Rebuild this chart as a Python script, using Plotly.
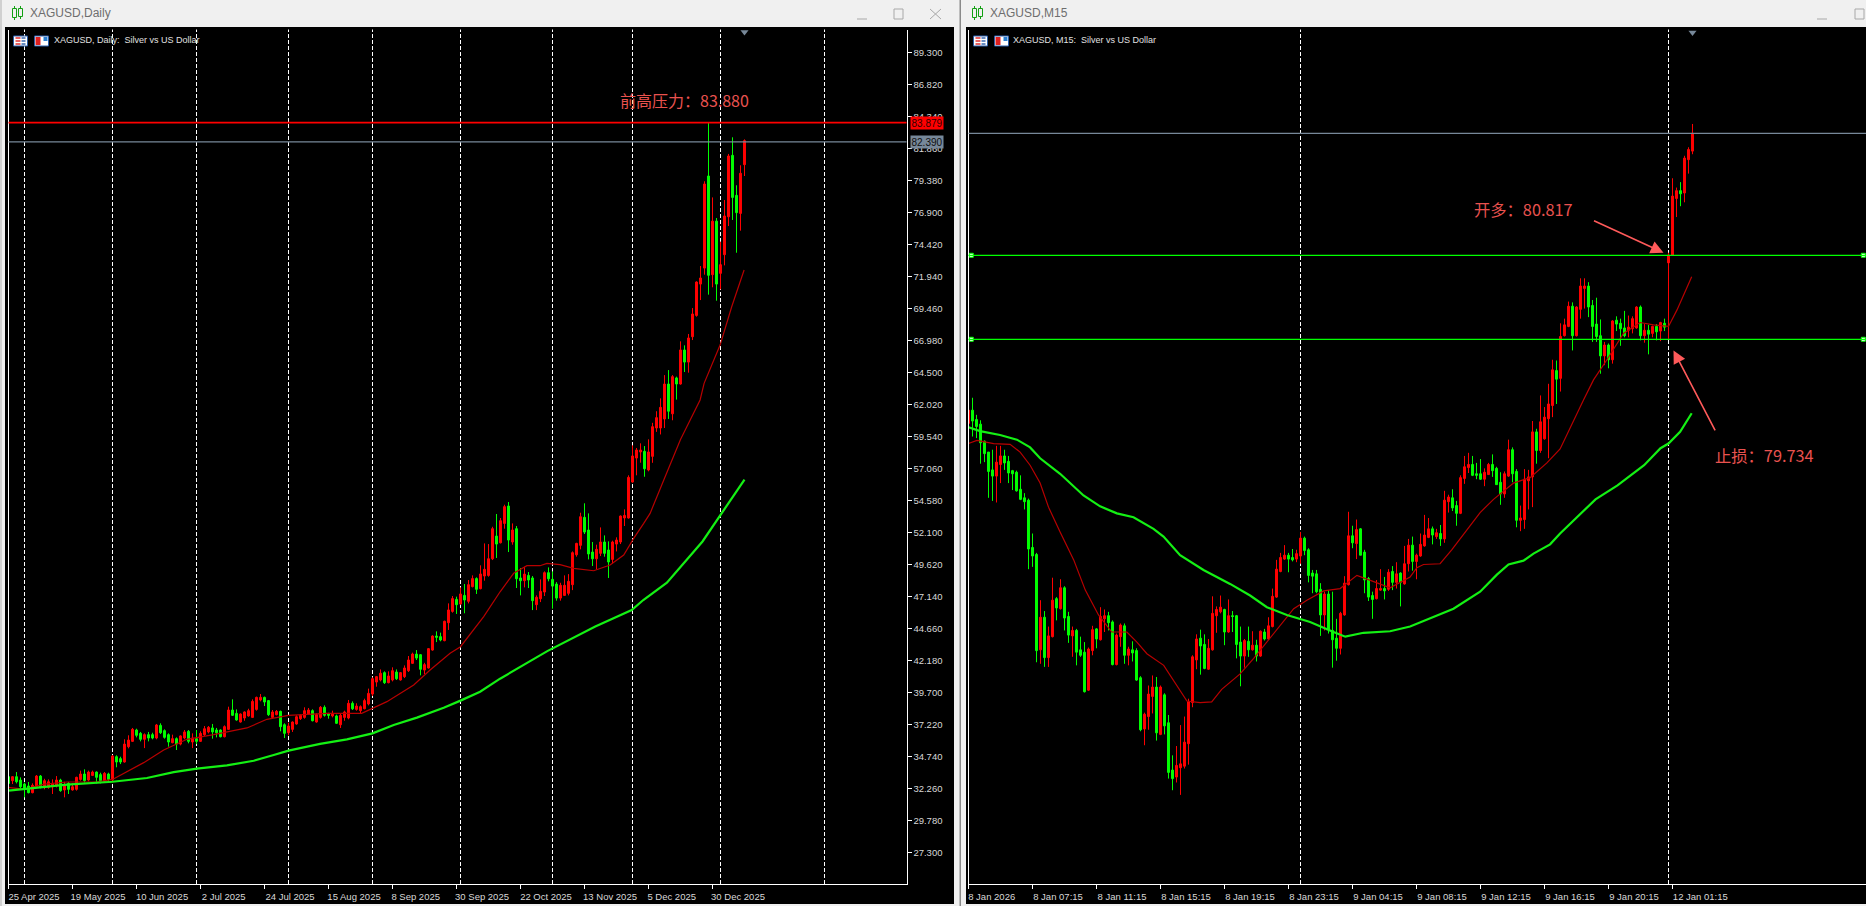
import plotly.graph_objects as go

W, H = 1866, 906

# ---------- XAGUSD Daily ----------
d_labels = ["25 Apr 2025","19 May 2025","10 Jun 2025","2 Jul 2025","24 Jul 2025","15 Aug 2025",
            "8 Sep 2025","30 Sep 2025","22 Oct 2025","13 Nov 2025","5 Dec 2025","30 Dec 2025"]
d_label_bars = [0,16,32,48,64,80,96,112,128,144,160,176]
d_month_bars = [4,26,47,70,91,113,136,156,178,204]
d_price_ticks = [89.30,86.82,84.34,81.86,79.38,76.90,74.42,71.94,69.46,66.98,64.50,62.02,59.54,
                 57.06,54.58,52.10,49.62,47.14,44.66,42.18,39.70,37.22,34.74,32.26,29.78,27.30]
d_dir = ("GRGGGGRRGR" "RRRGRGRRRG" "RRGGRGRGGR" "RRGGRGGRGG" "GRGRRGRGRR" "RGGGRRGGRR"
         "RRRRGGRRGG" "RRRRRRGRRG" "GRGRRRGRRR" "RRRRGRRGRR" "RRGGRRRGGR" "RRGRGRRGRR"
         "RRGRRGRGGR" "GGRRRGGGRR" "RRRRGGGRRG" "GRRRRRRRRG" "RRRRRGRGRG" "RRRRRGRGRR" "RGGRR")
d_body_top = [
33.16,33.16,33.16,32.90,32.59,32.44,32.49,33.21,33.21,32.85,
32.77,32.64,32.90,32.90,32.51,32.64,32.38,33.11,33.37,33.37,
33.52,33.52,33.52,33.32,33.42,33.37,34.76,34.71,34.56,35.69,
36.00,36.83,36.78,36.52,36.42,36.42,36.42,37.17,37.14,36.73,
36.42,36.11,36.11,36.32,36.63,36.68,36.16,36.11,36.52,36.88,
36.99,36.94,36.78,36.78,37.04,38.33,38.33,38.07,38.02,38.18,
38.28,39.00,39.31,39.31,39.31,39.06,38.18,38.23,38.23,37.19,
37.09,37.40,37.81,37.92,38.28,38.33,38.28,37.97,38.54,38.54,
38.02,38.07,37.87,37.92,38.18,38.85,38.85,38.64,38.59,39.06,
39.62,40.76,40.92,41.18,41.23,40.97,41.38,41.28,41.23,41.59,
42.21,42.67,42.67,42.62,41.85,43.09,44.07,44.07,44.02,45.21,
46.09,46.97,46.91,47.33,47.22,48.05,48.52,48.52,48.88,49.24,
50.06,52.39,51.82,53.01,54.10,54.15,52.29,52.39,48.57,48.87,
48.77,48.57,47.07,47.53,48.98,48.98,48.46,48.10,48.00,48.00,
48.31,50.53,51.25,53.32,53.27,52.29,50.58,50.79,51.36,51.36,
50.74,51.36,51.51,53.37,53.42,56.37,58.03,58.49,58.49,58.39,
58.34,60.30,61.00,61.80,63.61,63.61,64.18,64.08,66.25,66.25,
67.18,69.04,71.52,71.83,79.12,79.74,76.24,76.24,72.86,76.64,
81.29,81.34,78.24,79.95,82.48]
d_body_bottom = [
32.64,32.85,32.77,32.38,32.26,31.92,31.92,32.38,32.33,32.33,
32.33,32.38,32.44,32.08,32.13,32.18,32.13,32.18,32.95,32.85,
32.90,33.26,33.11,32.85,32.80,32.95,32.90,34.30,34.30,34.30,
35.49,35.90,36.37,36.06,36.06,36.16,36.16,36.16,36.57,36.21,
35.85,35.80,35.69,35.69,36.16,35.90,35.85,35.90,35.90,36.42,
36.63,36.63,36.57,36.26,36.26,36.83,37.92,37.56,37.40,37.71,
37.87,37.76,38.38,39.11,38.95,37.97,37.76,37.97,37.04,36.52,
36.57,36.83,37.25,37.66,37.76,38.02,37.50,37.40,37.76,37.92,
37.92,37.87,37.30,37.19,37.76,37.71,38.43,38.38,38.28,38.43,
38.80,39.57,40.50,40.66,40.45,40.45,40.66,40.76,40.66,40.92,
41.38,41.95,42.36,41.49,41.43,41.59,42.98,43.97,43.76,43.71,
45.10,45.98,46.50,46.55,46.86,46.76,47.90,47.69,47.74,48.72,
48.77,50.06,51.20,51.30,52.80,51.51,51.36,48.51,48.36,48.36,
48.41,46.81,46.50,46.96,47.48,48.51,47.94,47.01,47.01,47.22,
47.38,48.05,50.37,51.10,52.13,50.43,50.06,50.06,50.48,50.48,
49.81,50.01,51.20,51.36,53.22,53.22,56.01,57.87,58.34,57.04,
56.94,58.00,60.20,60.20,60.90,61.50,61.30,63.61,63.61,65.31,
65.31,67.28,68.93,71.36,72.60,72.04,72.09,71.36,72.19,73.64,
76.58,78.08,76.90,76.84,80.62]
d_high = [
33.60,33.21,33.52,33.11,32.70,32.75,32.64,33.29,33.29,33.00,
32.95,32.95,33.21,33.00,32.77,32.75,32.64,33.16,33.63,33.73,
33.63,33.63,33.57,33.47,33.52,33.47,34.84,34.82,34.71,36.06,
36.37,36.94,36.88,36.63,36.52,36.63,36.57,37.25,37.30,36.83,
36.52,36.42,36.21,36.37,36.78,36.78,36.52,36.78,36.68,37.09,
37.09,37.25,36.94,36.83,37.14,38.59,39.16,38.38,38.07,38.23,
38.43,39.16,39.37,39.57,39.37,39.11,38.33,38.33,38.28,37.30,
37.35,37.45,37.92,38.02,38.54,38.49,38.38,38.07,38.64,38.69,
38.12,38.28,37.97,38.07,38.28,39.11,39.00,38.85,38.69,39.21,
39.99,40.86,40.97,41.48,41.33,41.33,41.64,41.48,41.28,41.79,
42.52,42.78,42.98,42.67,41.99,43.14,44.12,44.43,44.33,45.26,
46.60,47.17,47.12,47.84,48.10,48.41,48.77,48.62,49.55,51.25,
51.20,52.54,53.53,53.22,54.25,54.46,52.80,52.60,49.34,49.44,
49.03,48.72,47.22,48.46,49.08,49.39,49.08,48.25,48.20,48.77,
48.87,50.63,51.30,53.63,54.36,53.58,51.36,51.15,52.49,51.87,
51.41,51.46,51.72,53.42,53.89,56.53,58.85,58.65,59.01,58.80,
59.32,60.60,61.50,62.50,64.30,64.69,64.30,64.18,66.92,66.61,
67.49,69.50,71.57,72.76,79.33,83.88,78.08,76.48,74.65,77.88,
81.45,82.74,79.02,80.57,82.58]
d_low = [
32.38,32.59,32.64,32.13,31.56,31.87,31.87,32.26,32.26,32.18,
32.23,31.82,32.33,31.99,31.56,31.82,32.08,32.08,32.85,32.70,
32.80,33.21,32.64,32.64,32.75,32.70,32.80,33.89,34.14,34.25,
35.36,35.85,36.21,35.90,35.38,35.90,36.06,36.06,36.47,36.11,
35.49,35.75,35.23,35.59,36.06,35.75,35.38,35.69,35.85,36.32,
36.52,36.11,36.21,36.21,36.21,36.78,37.87,37.50,37.35,37.50,
37.82,37.71,38.28,39.00,38.64,37.87,37.66,37.92,36.68,36.16,
36.37,36.63,37.19,37.56,37.66,37.97,37.45,37.35,37.66,37.82,
37.66,37.76,37.25,36.94,37.50,37.61,38.33,38.28,38.02,38.38,
38.69,39.42,40.14,40.55,40.35,40.40,40.55,40.66,40.61,40.81,
41.28,41.90,42.21,41.02,41.12,41.54,42.93,43.60,43.66,43.66,
44.54,45.88,45.78,46.50,45.83,46.60,47.84,47.33,47.69,48.36,
48.67,49.96,50.12,51.25,52.39,50.58,51.15,47.79,47.22,47.84,
47.79,46.08,46.08,46.70,47.17,48.31,46.19,46.81,46.81,47.17,
47.22,47.63,50.22,50.79,51.98,50.01,49.50,49.24,50.27,50.22,
48.57,49.70,50.63,51.20,52.60,53.17,55.96,56.53,57.51,56.42,
56.84,57.50,59.90,59.70,60.20,60.90,60.80,62.40,63.56,64.54,
64.49,67.02,68.83,70.12,72.09,70.54,71.11,70.07,70.95,72.81,
75.86,76.33,73.79,75.50,79.74]
d_fast_bar = [0,4,9,14.6,22,26,33.8,38.8,44.6,51.3,59.6,64.6,70,79.6,88.3,94.6,101.3,105.4,110.4,113,118.8,
              122.9,126.3,129.6,132.9,134.6,137.9,141.3,146.3,150.4,153.8,156.3,158.8,160.4,164,168,172.9,173.9,177.9,180.8,183.9]
d_fast_val = [32.33,32.18,32.59,32.75,32.75,32.95,34.25,35.23,36.06,36.42,36.94,37.61,37.92,38.07,38.07,38.98,40.27,41.43,42.73,43.24,45.57,
              47.50,48.93,49.52,49.52,49.70,49.60,49.31,49.13,49.57,50.35,51.64,52.80,53.58,56.30,59.30,62.37,63.66,66.63,69.60,72.45]
d_slow_bar = [0,6.3,14.6,26,34.6,41.3,47.1,54.6,61.3,66.3,70,77.9,84.6,91,96.3,102.1,108.8,113,117.9,122.9,
              131.8,134.7,146.7,155.8,158.7,160.4,164.6,173.5,184]
d_slow_val = [32.08,32.28,32.54,32.77,33.06,33.52,33.78,34.04,34.40,34.84,35.18,35.70,36.06,36.52,37.17,37.74,38.51,39.06,39.75,40.76,
              42.40,42.90,44.80,46.08,46.86,47.25,48.20,51.40,56.20]
d_resistance = 83.879
d_last = 82.390

# ---------- XAGUSD M15 ----------
m_labels = ["8 Jan 2026","8 Jan 07:15","8 Jan 11:15","8 Jan 15:15","8 Jan 19:15","8 Jan 23:15",
            "9 Jan 04:15","9 Jan 08:15","9 Jan 12:15","9 Jan 16:15","9 Jan 20:15","12 Jan 01:15"]
m_label_bars = [0,16,32,48,64,80,96,112,128,144,160,176]
m_day_bars = [83,175]
m_dir = ("RGGGGGGRRG" "GGGGGGGGRG" "RRGRGGRGGG" "RRGRRGGRRG" "RGGGRRRGRG" "GGRRRRRRGG"
         "RRRRGRGGGR" "GRGRGRRRRR" "GGRRGGGGGR" "GGGRRRGRGG" "GGRRGRGRGR" "RGRRRRGRGR"
         "RGGRRRGGGR" "RGGGRRGGRR" "RRGRRRRGRR" "RGRRRGGGGR" "GRGGGRRRGR" "GRGRGRRRGR" "RR")
m_body_top = [
78.82,78.82,78.70,78.64,78.42,78.28,78.05,78.15,78.23,78.23,
78.16,78.04,78.02,77.80,77.69,77.66,77.05,76.96,76.15,76.15,
75.91,76.37,76.39,76.53,76.53,76.16,75.98,75.98,75.73,75.70,
75.74,75.99,76.00,76.16,76.17,76.17,76.09,75.92,76.05,76.04,
75.74,75.73,75.72,75.37,74.90,75.16,75.25,75.25,75.25,75.15,
74.79,74.18,74.24,74.26,74.54,75.06,75.64,75.87,75.88,75.80,
75.75,76.20,76.25,76.28,76.25,76.17,76.17,76.17,75.83,75.85,
75.84,75.79,75.79,75.97,75.96,76.04,76.42,76.77,76.92,76.95,
76.95,76.92,76.97,77.17,77.17,77.02,76.72,76.71,76.51,76.45,
76.45,75.98,75.88,76.20,76.59,77.20,77.20,77.28,77.29,76.99,
76.65,76.43,76.52,76.52,76.52,76.73,76.74,76.71,76.72,76.84,
77.08,77.08,76.95,77.09,77.21,77.29,77.29,77.24,77.23,77.66,
77.70,77.69,77.59,77.95,78.09,78.12,78.12,78.00,78.00,78.02,
78.12,78.12,78.07,77.89,78.00,78.31,78.31,78.03,77.43,77.93,
77.96,78.54,78.54,78.67,78.73,78.90,79.34,79.33,79.77,79.92,
80.16,80.16,80.15,80.42,80.42,80.42,80.17,79.93,79.78,79.66,
79.66,79.97,79.98,79.94,79.88,79.89,80.00,80.15,80.15,79.85,
79.85,79.90,79.90,79.95,79.94,80.82,81.58,81.65,81.65,82.07,
82.18,82.39]
m_body_bottom = [
78.65,78.68,78.61,78.40,78.26,78.03,77.97,77.97,78.12,78.14,
78.01,78.00,77.78,77.67,77.64,77.03,76.94,75.72,75.73,75.63,
75.63,75.90,76.27,76.26,76.14,75.92,75.91,75.70,75.66,75.19,
75.21,75.72,75.87,75.86,76.13,76.08,75.54,75.54,75.90,75.66,
75.66,75.69,75.34,74.70,74.71,74.87,75.13,74.66,74.64,74.75,
74.15,74.07,74.09,74.21,74.23,74.52,75.05,75.60,75.78,75.49,
75.48,75.73,76.17,76.22,75.96,75.96,76.16,75.80,75.65,75.65,
75.73,75.73,75.65,75.65,75.87,75.87,76.03,76.41,76.74,76.90,
76.90,76.89,76.90,76.94,77.01,76.69,76.68,76.48,76.18,76.18,
75.99,75.86,75.75,75.75,76.18,76.57,77.11,77.10,76.95,76.63,
76.41,76.38,76.39,76.50,76.49,76.51,76.60,76.60,76.60,76.58,
76.84,76.87,76.87,76.94,77.07,77.18,77.21,77.19,77.16,77.16,
77.64,77.56,77.49,77.49,77.94,78.08,77.98,77.98,77.93,77.93,
77.99,78.04,77.86,77.74,77.74,77.97,78.00,77.40,77.40,77.41,
77.91,77.96,78.30,78.30,78.45,78.71,78.88,79.22,79.23,79.78,
79.90,79.78,79.78,80.12,80.39,80.15,79.90,79.77,79.52,79.52,
79.47,79.47,79.93,79.87,79.78,79.85,79.87,79.88,79.78,79.78,
79.80,79.81,79.83,79.84,79.89,80.72,80.82,81.55,81.61,81.62,
82.05,82.16]
m_high = [
78.82,78.98,78.76,78.69,78.43,78.28,78.31,78.36,78.36,78.31,
78.23,78.05,78.04,77.98,77.75,77.68,77.23,76.98,76.37,76.23,
76.03,76.66,76.41,76.64,76.55,76.22,76.03,76.00,75.90,75.83,
75.76,76.04,76.01,76.28,76.25,76.22,76.11,75.94,76.07,76.07,
75.77,75.84,75.75,75.39,74.92,75.27,75.40,75.38,75.27,75.17,
74.89,74.37,74.49,74.76,74.87,75.10,75.66,75.93,75.99,75.93,
75.87,76.42,76.29,76.43,76.26,76.38,76.23,76.18,76.03,75.87,
76.03,75.97,75.86,75.98,76.00,76.15,76.52,76.89,76.98,77.08,
76.98,77.03,77.02,77.25,77.19,77.04,76.76,76.76,76.59,76.48,
76.50,76.48,76.13,76.22,76.68,77.51,77.33,77.41,77.30,77.02,
76.67,76.48,76.63,76.77,76.67,76.77,76.81,76.86,76.73,77.07,
77.16,77.19,76.97,77.23,77.47,77.43,77.32,77.29,77.34,77.78,
77.73,77.80,77.65,77.98,78.23,78.27,78.23,78.14,78.19,78.07,
78.14,78.25,78.09,78.02,78.03,78.44,78.34,78.06,77.59,78.06,
78.05,78.68,78.58,79.01,78.86,79.16,79.47,79.46,79.94,80.00,
80.22,80.21,80.16,80.52,80.52,80.47,80.24,80.27,79.99,79.70,
79.68,79.98,80.03,80.00,80.10,80.04,80.03,80.16,80.17,79.93,
79.92,79.91,79.93,79.96,80.00,80.85,81.81,81.69,81.76,82.10,
82.21,82.51]
m_low = [
78.61,78.48,78.46,78.13,78.15,77.69,77.65,77.63,77.88,78.05,
77.88,77.79,77.77,77.66,77.54,76.77,76.80,75.57,75.55,75.51,
75.51,75.89,76.11,76.25,75.98,75.82,75.64,75.53,75.64,75.18,
75.20,75.66,75.75,75.85,75.96,75.98,75.53,75.53,75.77,75.55,
75.53,75.58,75.33,74.68,74.50,74.70,74.91,74.56,74.63,74.64,
74.07,73.92,74.02,73.86,74.20,74.25,74.99,75.48,75.41,75.48,
75.47,75.72,75.95,76.20,75.79,75.95,75.96,75.62,75.26,75.50,
75.64,75.72,75.58,75.64,75.85,75.86,76.02,76.40,76.73,76.89,
76.73,76.87,76.86,76.84,76.95,76.60,76.46,76.46,75.91,75.98,
75.94,75.50,75.59,75.67,76.17,76.56,77.04,76.90,76.95,76.46,
76.36,76.13,76.38,76.49,76.38,76.49,76.50,76.52,76.29,76.57,
76.74,76.75,76.64,76.93,77.06,77.17,77.09,77.16,77.07,77.11,
77.50,77.52,77.33,77.48,77.87,78.01,77.97,77.93,77.92,77.84,
77.99,77.96,77.86,77.60,77.69,77.96,77.89,77.31,77.26,77.29,
77.54,77.57,78.13,78.27,78.44,78.20,78.73,78.90,79.06,79.77,
79.89,79.59,79.77,80.00,80.13,80.02,79.70,79.70,79.29,79.40,
79.36,79.42,79.84,79.65,79.76,79.76,79.81,79.87,79.72,79.69,
79.54,79.76,79.72,79.71,79.84,79.74,80.81,81.31,81.45,81.50,
81.87,82.12]
m_fast_bar = [0,2.1,6.3,10.4,12.9,15.4,17.9,20,22.9,26.3,29.2,32.5,35.8,39.6,42.1,44.6,48.8,52.1,54.6,57.9,60.8,63.3,67.9,71.3,75.4,77.9,81.3,84.6,88.8,92.9,97.1,101.3,105.4,110.4,
              112.1,113.75,117.9,120.8,123.3,127.9,131.25,136.25,140.4,144.6,147.9,151.25,153.75,156.25,159.6,163.75,167.9,171.25,175,177.1,179.6,180.8]
m_fast_val = [78.39,78.43,78.39,78.38,78.28,78.11,77.88,77.57,77.25,76.89,76.50,76.18,75.96,75.96,75.83,75.68,75.53,75.27,75.07,75.05,75.06,75.22,75.42,75.62,75.88,76.03,76.26,76.37,76.49,76.52,76.69,76.61,76.53,76.67,
              76.79,76.83,76.84,77.02,77.19,77.50,77.67,77.88,77.95,78.14,78.32,78.69,78.95,79.21,79.47,79.81,79.95,79.92,79.90,80.11,80.39,80.54]
m_slow_bar = [0,2.9,7.9,12.1,15.4,17.9,22.9,28.75,32.9,37.1,41.25,46.25,48.75,52.9,58.75,65.4,70.4,74.6,79.6,85.4,91.25,94.2,98.75,105.4,110.4,
              121.25,127.9,132.1,135,138.75,141.25,145.4,147.9,156.75,162.25,168.9,173,175,177.9,180.8]
m_slow_val = [78.60,78.55,78.50,78.44,78.34,78.20,78.00,77.72,77.58,77.49,77.44,77.29,77.19,76.95,76.76,76.58,76.43,76.28,76.18,76.09,75.96,75.90,75.95,75.97,76.03,
              76.26,76.48,76.70,76.83,76.88,76.97,77.09,77.23,77.67,77.85,78.11,78.33,78.39,78.54,78.78]
m_last = 82.390
m_entry = 80.817
m_stop = 79.734

for name, arr, n in [("dir", d_dir, 185), ("top", d_body_top, 185), ("bot", d_body_bottom, 185), ("hi", d_high, 185), ("lo", d_low, 185),
                     ("mdir", m_dir, 182), ("mtop", m_body_top, 182), ("mbot", m_body_bottom, 182), ("mhi", m_high, 182), ("mlo", m_low, 182)]:
    assert len(arr) == n, (name, len(arr))

UP, DOWN = "#ff0000", "#00ff00"
FAST, SLOW = "#b80000", "#14f014"
SLATE = "#778899"
NOTE = "#e9524f"
FONT = "Liberation Sans"
CJK = "Noto Sans CJK SC"


def opens(dirs, top, bot):
    return [b if c == "R" else t for c, t, b in zip(dirs, top, bot)]


def closes(dirs, top, bot):
    return [t if c == "R" else b for c, t, b in zip(dirs, top, bot)]


def px(x):
    return x / W


def py(y):
    return 1 - y / H


fig = go.Figure()


def candle(dirs, top, bot, hi, lo, xa, ya):
    fig.add_trace(go.Candlestick(
        x=list(range(len(dirs))), open=opens(dirs, top, bot), high=hi, low=lo, close=closes(dirs, top, bot),
        xaxis=xa, yaxis=ya, whiskerwidth=0, showlegend=False, hoverinfo="skip",
        increasing=dict(line=dict(color=UP, width=1), fillcolor=UP),
        decreasing=dict(line=dict(color=DOWN, width=1), fillcolor=DOWN)))


def line(xs, ys, color, width, xa, ya):
    fig.add_trace(go.Scatter(x=xs, y=ys, mode="lines", line=dict(color=color, width=width),
                             xaxis=xa, yaxis=ya, showlegend=False, hoverinfo="skip"))


candle(d_dir, d_body_top, d_body_bottom, d_high, d_low, "x", "y")
line(d_fast_bar, d_fast_val, FAST, 1.2, "x", "y")
line(d_slow_bar, d_slow_val, SLOW, 2.2, "x", "y")
candle(m_dir, m_body_top, m_body_bottom, m_high, m_low, "x2", "y2")
line(m_fast_bar, m_fast_val, FAST, 1.2, "x2", "y2")
line(m_slow_bar, m_slow_val, SLOW, 2.2, "x2", "y2")

# chart-shift markers
fig.add_trace(go.Scatter(x=[184], y=[90.9], mode="markers", marker=dict(symbol="triangle-down", size=7, color=SLATE),
                         xaxis="x", yaxis="y", showlegend=False, hoverinfo="skip"))
fig.add_trace(go.Scatter(x=[181], y=[83.69], mode="markers", marker=dict(symbol="triangle-down", size=7, color=SLATE),
                         xaxis="x2", yaxis="y2", showlegend=False, hoverinfo="skip"))
# level-line handles
fig.add_trace(go.Scatter(x=[0.7, 0.7, 223.7, 223.7], y=[m_entry, m_stop, m_entry, m_stop], mode="markers",
                         marker=dict(symbol="square", size=4, color="#ffffff", line=dict(color="#00ff00", width=1)),
                         xaxis="x2", yaxis="y2", showlegend=False, hoverinfo="skip"))
# carriers for the label axes
fig.add_trace(go.Scatter(x=[0], y=[None], mode="lines", xaxis="x3", yaxis="y", showlegend=False, hoverinfo="skip"))
fig.add_trace(go.Scatter(x=[0], y=[None], mode="lines", xaxis="x4", yaxis="y2", showlegend=False, hoverinfo="skip"))

xr1 = [0, 224.5]
xr2 = [0, 224.375]
dom1 = [px(8.5), px(906.5)]
dom2 = [px(968.5), 1]
domy = [py(884), py(29.5)]
yr1 = [24.84, 91.10]
yr2 = [72.711, 83.728]
tickfont = dict(family=FONT, size=9.5, color="#d8d8d8")


def xmark(dom, rng, bars, anchor):
    return dict(domain=dom, range=rng, anchor=anchor, rangeslider=dict(visible=False), showgrid=False, zeroline=False,
                tickmode="array", tickvals=bars, showticklabels=False, ticks="outside", ticklen=4, tickcolor="#ffffff", tickwidth=1,
                showline=True, linecolor="#ffffff", linewidth=1, fixedrange=True)


def xtext(rng, bars, labels, anchor, over):
    return dict(range=rng, anchor=anchor, overlaying=over, showgrid=False, zeroline=False, tickmode="array",
                tickvals=[b + 0.58 * len(s) for b, s in zip(bars, labels)], ticktext=labels, tickfont=tickfont,
                ticks="outside", ticklen=4, tickcolor="rgba(0,0,0,0)", tickangle=0, showline=False, fixedrange=True)


xa3 = xtext(xr1, d_label_bars, d_labels, "y", "x")
xa4 = xtext(xr2, m_label_bars, m_labels, "y2", "x2")

shapes = []


def rect(x0, y0, x1, y1, fill, lc=None, lw=0):
    shapes.append(dict(type="rect", xref="paper", yref="paper", x0=px(x0), x1=px(x1), y0=py(y0), y1=py(y1),
                       fillcolor=fill, line=dict(color=lc or fill, width=lw), layer="below"))


def seg(x0, y0, x1, y1, color, width=1):
    shapes.append(dict(type="line", xref="paper", yref="paper", x0=px(x0), x1=px(x1), y0=py(y0), y1=py(y1),
                       line=dict(color=color, width=width), layer="above"))


def topbox(x0, y0, x1, y1, fill, lc="#3a6fb5", lw=1):
    shapes.append(dict(type="rect", xref="paper", yref="paper", x0=px(x0), x1=px(x1), y0=py(y0), y1=py(y1),
                       fillcolor=fill, line=dict(color=lc, width=lw), layer="above"))


# window panes
rect(5, 27, 954, 904, "#000000")
rect(966, 27, 1866, 904, "#000000")
rect(959.5, 0, 961, 906, "#8a8a8a")
rect(0, 0, 2, 906, "#d0d0d0")
# title-bar candle icons and controls
for ox in (12.5, 972.5):
    topbox(ox, 8.5, ox + 4, 17.5, "rgba(0,0,0,0)", "#12a012", 1)
    topbox(ox + 6, 8.5, ox + 10, 16.5, "rgba(0,0,0,0)", "#12a012", 1)
    seg(ox + 2, 6, ox + 2, 8.5, "#12a012", 1)
    seg(ox + 2, 17.5, ox + 2, 20, "#12a012", 1)
    seg(ox + 8, 6, ox + 8, 8.5, "#12a012", 1)
    seg(ox + 8, 16.5, ox + 8, 19, "#12a012", 1)
for mx in (862, 1822):
    seg(mx - 5, 19, mx + 5, 19, "#a8a8a8", 1)
topbox(894, 9, 903, 19, "rgba(0,0,0,0)", "#a8a8a8", 1)
topbox(1855, 9, 1864, 19, "rgba(0,0,0,0)", "#a8a8a8", 1)
seg(930, 9, 941, 19, "#a8a8a8", 1)
seg(930, 19, 941, 9, "#a8a8a8", 1)
# chart menu icons
for ox, oy in ((13.5, 36), (973.5, 36)):
    topbox(ox, oy, ox + 14, oy + 10, "#ffffff", "#2a5ca8", 1)
    for k in range(3):
        seg(ox + 2, oy + 2 + 3 * k, ox + 7, oy + 2 + 3 * k, "#e02020", 1.4)
        seg(ox + 8, oy + 2 + 3 * k, ox + 12, oy + 2 + 3 * k, "#2a5ca8", 1.4)
    topbox(ox + 21, oy, ox + 35, oy + 10, "#ffffff", "#2a5ca8", 1)
    topbox(ox + 22, oy + 1, ox + 27, oy + 9, "#e02020", "#e02020", 0)
    topbox(ox + 30, oy + 1, ox + 34, oy + 5, "#2a7fd0", "#2a7fd0", 0)


def vline(bar, xa, ya):
    shapes.append(dict(type="line", xref=xa, yref=f"{ya} domain", x0=bar, x1=bar, y0=0, y1=1,
                       line=dict(color="#ffffff", width=1, dash="4px,2px"), layer="below"))


def hline(val, xa, ya, color, width):
    shapes.append(dict(type="line", xref=f"{xa} domain", yref=ya, x0=0, x1=1, y0=val, y1=val,
                       line=dict(color=color, width=width), layer="above"))


for b in d_month_bars:
    vline(b, "x", "y")
for b in m_day_bars:
    vline(b, "x2", "y2")
hline(d_resistance, "x", "y", "#ff0000", 1.6)
hline(d_last, "x", "y", SLATE, 1.3)
hline(m_last, "x2", "y2", SLATE, 1.2)
hline(m_entry, "x2", "y2", "#00ff00", 1.3)
hline(m_stop, "x2", "y2", "#00ff00", 1.3)

ann = []


def paper_text(text, x, y, size, color, font=FONT, anchor="left"):
    ann.append(dict(text=text, xref="paper", yref="paper", x=px(x), y=py(y), xanchor=anchor, yanchor="middle",
                    showarrow=False, font=dict(family=font, size=size, color=color)))


paper_text("XAGUSD,Daily", 27.5, 13, 12, "#6e6e6e")
paper_text("XAGUSD,M15", 987.5, 13, 12, "#6e6e6e")
paper_text("XAGUSD, Daily:  Silver vs US Dollar", 52, 40.5, 9, "#e0e0e0")
paper_text("XAGUSD, M15:  Silver vs US Dollar", 1011, 40.5, 9, "#e0e0e0")

ann.append(dict(text="前高压力：83.880", xref="x", yref="y", x=152.4, y=85.63, xanchor="left", yanchor="middle",
                showarrow=False, font=dict(family=CJK, size=16, color=NOTE)))
ann.append(dict(text="开多：80.817", xref="x2", yref="y2", x=125.8, y=81.41, xanchor="left", yanchor="middle",
                showarrow=False, font=dict(family=CJK, size=16.3, color=NOTE)))
ann.append(dict(text="止损：79.734", xref="x2", yref="y2", x=186.0, y=78.24, xanchor="left", yanchor="middle",
                showarrow=False, font=dict(family=CJK, size=16.3, color=NOTE)))
for head, tail in (((173.75, 80.85), (156.0, 81.27)), ((176.25, 79.59), (186.85, 78.54))):
    ann.append(dict(text="", xref="x2", yref="y2", x=head[0], y=head[1], axref="x2", ayref="y2", ax=tail[0], ay=tail[1],
                    showarrow=True, arrowhead=2, arrowsize=1.6, arrowwidth=1.6, arrowcolor="#ff5a5a"))
for val, bg, txtc in ((d_resistance, "#ff0000", "#300000"), (d_last, SLATE, "#101010")):
    ann.append(dict(text=f"{val:.3f}", xref="paper", yref="y", x=px(909.5), y=val, xanchor="left", yanchor="middle",
                    showarrow=False, bgcolor=bg, borderpad=0.5, font=dict(family=FONT, size=10, color=txtc)))

fig.update_layout(
    width=W, height=H, margin=dict(l=0, r=0, t=0, b=0), autosize=False,
    paper_bgcolor="#f0f0f0", plot_bgcolor="#000000", showlegend=False,
    xaxis=xmark(dom1, xr1, d_label_bars, "y"),
    xaxis2=xmark(dom2, xr2, m_label_bars, "y2"),
    xaxis3=xa3, xaxis4=xa4,
    yaxis=dict(domain=domy, range=yr1, anchor="x", side="right", showgrid=False, zeroline=False, tickmode="array",
               tickvals=d_price_ticks, tickformat=".3f", tickfont=dict(family=FONT, size=9.5, color="#d8d8d8"),
               ticks="outside", ticklen=4, tickcolor="#ffffff", showline=True, linecolor="#ffffff", linewidth=1,
               mirror=True, fixedrange=True),
    yaxis2=dict(domain=domy, range=yr2, anchor="x2", showgrid=False, zeroline=False, showticklabels=False,
                showline=True, linecolor="#ffffff", linewidth=1, ticks="", fixedrange=True),
    shapes=shapes, annotations=ann,
)

fig.write_html("out.html", post_script="document.body.style.margin='0';document.body.style.overflow='hidden';",
               config=dict(displayModeBar=False))
